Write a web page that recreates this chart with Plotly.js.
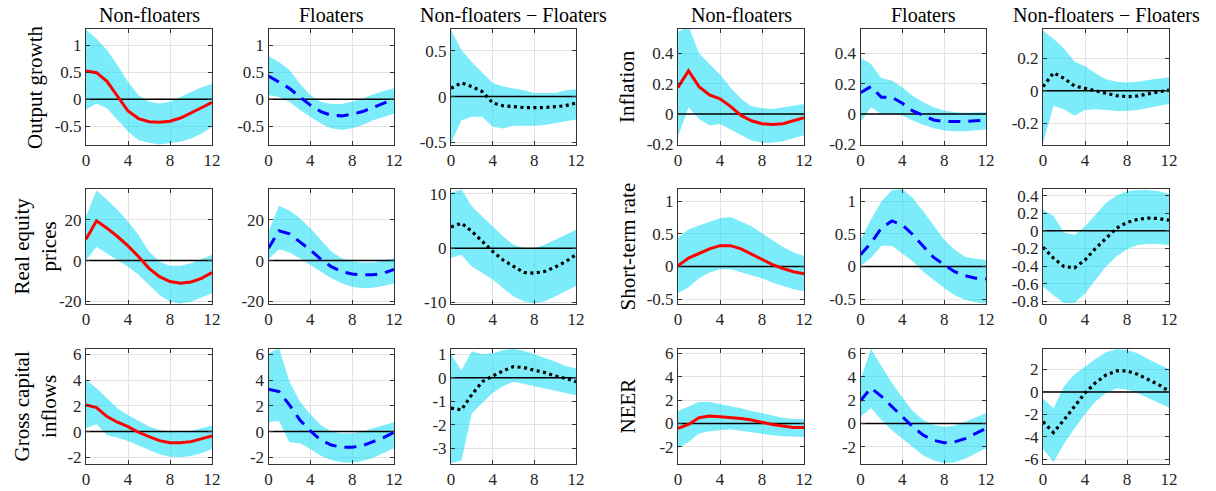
<!DOCTYPE html>
<html>
<head>
<meta charset="utf-8">
<script src="https://cdn.plot.ly/plotly-3.0.1.min.js"></script>
<style>html,body{margin:0;padding:0;background:#fff;}#chart{width:1216px;height:491px;}</style>
</head>
<body>
<div id="chart"></div>
<script>
// ---------------- DATA ----------------
const horizons = [0,1,2,3,4,5,6,7,8,9,10,11,12];
const xTicks = [0,4,8,12];
const colTitles = ["Non-floaters", "Floaters", "Non-floaters \u2212 Floaters"];
const rowLabelsLeft = ["Output growth", "Real equity<br>prices", "Gross capital<br>inflows"];
const rowLabelsRight = ["Inflation", "Short-term rate", "NEER"];

// Output growth
const outNF    = [0.52, 0.49, 0.33, 0.05, -0.22, -0.36, -0.42, -0.43, -0.41, -0.35, -0.26, -0.16, -0.06];
const outNF_hi = [1.29, 1.12, 0.91, 0.63, 0.32, 0.07, -0.05, -0.08, -0.05, 0.04, 0.14, 0.22, 0.28];
const outNF_lo = [-0.19, -0.08, -0.17, -0.39, -0.60, -0.76, -0.81, -0.84, -0.82, -0.79, -0.73, -0.64, -0.51];
const outF     = [0.43, 0.32, 0.20, 0.04, -0.11, -0.23, -0.30, -0.31, -0.28, -0.23, -0.15, -0.08, 0.00];
const outF_hi  = [0.80, 0.69, 0.54, 0.29, 0.07, -0.05, -0.09, -0.09, -0.05, 0.01, 0.09, 0.15, 0.20];
const outF_lo  = [0.07, 0.04, -0.05, -0.20, -0.33, -0.45, -0.54, -0.57, -0.54, -0.48, -0.39, -0.33, -0.27];
const outD     = [0.09, 0.15, 0.11, 0.055, -0.07, -0.10, -0.11, -0.12, -0.12, -0.12, -0.11, -0.10, -0.07];
const outD_hi  = [0.73, 0.51, 0.38, 0.27, 0.15, 0.11, 0.09, 0.07, 0.04, 0.04, 0.04, 0.07, 0.08];
const outD_lo  = [-0.51, -0.26, -0.22, -0.22, -0.33, -0.35, -0.32, -0.32, -0.32, -0.31, -0.29, -0.27, -0.25];

// Inflation
const infNF    = [0.175, 0.285, 0.18, 0.125, 0.10, 0.05, -0.01, -0.045, -0.065, -0.07, -0.065, -0.045, -0.025];
const infNF_hi = [0.54, 0.58, 0.40, 0.33, 0.26, 0.175, 0.10, 0.05, 0.037, 0.033, 0.044, 0.055, 0.066];
const infNF_lo = [-0.15, 0.044, -0.033, -0.077, -0.066, -0.10, -0.14, -0.175, -0.19, -0.19, -0.18, -0.16, -0.14];
const infF     = [0.14, 0.18, 0.11, 0.11, 0.07, 0.02, -0.01, -0.04, -0.05, -0.05, -0.05, -0.045, -0.04];
const infF_hi  = [0.37, 0.33, 0.235, 0.22, 0.175, 0.12, 0.077, 0.044, 0.022, 0.011, 0.007, 0.007, 0.011];
const infF_lo  = [-0.055, 0.044, 0.0, 0.0, -0.011, -0.044, -0.072, -0.094, -0.11, -0.114, -0.114, -0.11, -0.103];
const infD     = [0.025, 0.11, 0.076, 0.029, 0.014, 0.0, -0.016, -0.031, -0.037, -0.033, -0.02, -0.006, 0.004];
const infD_hi  = [0.37, 0.32, 0.26, 0.18, 0.15, 0.107, 0.07, 0.055, 0.05, 0.055, 0.066, 0.074, 0.082];
const infD_lo  = [-0.325, -0.094, -0.115, -0.154, -0.12, -0.115, -0.12, -0.125, -0.125, -0.12, -0.109, -0.094, -0.082];

// Real equity prices
const eqNF     = [10.5, 19.5, 15.9, 11.8, 7.2, 2.0, -3.8, -7.9, -10.3, -11.1, -10.5, -8.7, -5.9];
const eqNF_hi  = [21.6, 34.4, 29.8, 24.9, 19.2, 12.6, 4.4, -0.5, -2.6, -2.6, -1.3, 0.7, 2.8];
const eqNF_lo  = [0.3, 6.6, 3.6, 0.3, -3.0, -7.0, -12.0, -16.9, -20.2, -21.0, -20.2, -18.0, -16.0];
const eqF      = [6.0, 14.6, 13.1, 9.3, 5.2, 0.7, -3.0, -5.4, -6.6, -7.0, -7.0, -6.2, -4.3];
const eqF_hi   = [14.3, 26.9, 24.6, 20.8, 15.9, 10.2, 4.4, 1.1, -0.5, -1.0, -1.0, 0.0, 1.1];
const eqF_lo   = [0.7, 5.6, 3.9, 1.1, -2.1, -5.4, -8.7, -11.1, -12.8, -13.6, -13.3, -12.5, -11.1];
const eqD      = [3.9, 4.6, 3.1, 1.2, -0.6, -2.2, -3.4, -4.5, -4.6, -4.3, -3.5, -2.5, -1.2];
const eqD_hi   = [10.2, 10.8, 7.7, 5.8, 4.0, 2.2, 0.6, 0.0, 0.0, 0.6, 1.5, 2.5, 3.4];
const eqD_lo   = [-1.8, -1.2, -3.4, -4.6, -5.8, -7.4, -8.9, -9.8, -10.2, -9.8, -8.9, -8.0, -7.0];

// Short-term rate
const srNF     = [0.01, 0.13, 0.20, 0.27, 0.32, 0.32, 0.27, 0.19, 0.10, 0.03, -0.03, -0.08, -0.11];
const srNF_hi  = [0.44, 0.57, 0.63, 0.69, 0.74, 0.76, 0.69, 0.62, 0.51, 0.41, 0.30, 0.22, 0.16];
const srNF_lo  = [-0.41, -0.32, -0.18, -0.09, -0.04, -0.04, -0.08, -0.13, -0.18, -0.25, -0.30, -0.35, -0.38];
const srF      = [0.18, 0.36, 0.59, 0.70, 0.64, 0.49, 0.31, 0.14, 0.03, -0.08, -0.14, -0.18, -0.19];
const srF_hi   = [0.41, 0.72, 1.00, 1.17, 1.19, 1.05, 0.85, 0.62, 0.41, 0.26, 0.15, 0.12, 0.10];
const srF_lo   = [0.01, 0.13, 0.32, 0.32, 0.20, 0.08, -0.08, -0.21, -0.33, -0.44, -0.51, -0.55, -0.57];
const srD      = [-0.185, -0.31, -0.405, -0.42, -0.33, -0.20, -0.085, 0.03, 0.095, 0.13, 0.145, 0.14, 0.12];
const srD_hi   = [0.24, 0.17, -0.02, -0.045, 0.05, 0.18, 0.315, 0.40, 0.45, 0.465, 0.465, 0.45, 0.42];
const srD_lo   = [-0.63, -0.73, -0.82, -0.82, -0.71, -0.56, -0.405, -0.29, -0.21, -0.16, -0.15, -0.15, -0.16];

// Gross capital inflows
const gcNF     = [2.08, 1.87, 1.17, 0.73, 0.39, -0.05, -0.39, -0.70, -0.86, -0.86, -0.78, -0.57, -0.34];
const gcNF_hi  = [4.03, 3.38, 2.60, 1.82, 1.30, 0.83, 0.39, 0.13, 0.0, -0.05, 0.05, 0.26, 0.47];
const gcNF_lo  = [0.26, 0.57, -0.26, -0.47, -0.73, -1.09, -1.43, -1.77, -1.95, -2.0, -1.9, -1.69, -1.35];
const gcF      = [3.3, 3.12, 2.08, 0.91, 0.05, -0.65, -1.04, -1.22, -1.22, -1.09, -0.78, -0.47, -0.05];
const gcF_hi   = [6.1, 6.5, 3.9, 2.34, 1.35, 0.52, 0.0, -0.13, -0.13, 0.0, 0.26, 0.47, 0.73];
const gcF_lo   = [0.73, 0.83, -0.83, -0.91, -1.35, -1.87, -2.21, -2.39, -2.42, -2.29, -2.03, -1.69, -1.3];
const gcD      = [-1.29, -1.37, -0.72, -0.17, 0.07, 0.29, 0.47, 0.43, 0.32, 0.22, 0.07, -0.03, -0.17];
const gcD_hi   = [1.0, 0.32, 1.12, 1.0, 1.04, 1.18, 1.22, 1.15, 1.0, 0.86, 0.69, 0.5, 0.39];
const gcD_lo   = [-3.63, -3.53, -1.51, -1.08, -0.65, -0.36, -0.17, -0.26, -0.36, -0.46, -0.55, -0.65, -0.75];

// NEER
const neNF     = [-0.43, -0.09, 0.49, 0.64, 0.58, 0.52, 0.43, 0.29, 0.09, -0.09, -0.23, -0.35, -0.35];
const neNF_hi  = [1.07, 1.45, 1.83, 1.83, 1.65, 1.51, 1.30, 1.07, 0.87, 0.67, 0.49, 0.38, 0.35];
const neNF_lo  = [-2.12, -1.59, -0.87, -0.67, -0.58, -0.49, -0.58, -0.72, -0.87, -1.01, -1.10, -1.16, -1.16];
const neF      = [1.94, 3.04, 2.32, 1.45, 0.58, -0.29, -1.01, -1.45, -1.65, -1.59, -1.30, -0.87, -0.43];
const neF_hi   = [3.77, 6.38, 4.93, 3.48, 2.23, 1.07, 0.29, -0.14, -0.29, -0.20, 0.14, 0.49, 0.87];
const neF_lo   = [0.58, 1.30, 0.29, -0.58, -1.30, -2.03, -2.75, -3.19, -3.42, -3.33, -3.04, -2.61, -2.12];
const neD      = [-2.66, -3.62, -2.5, -1.3, -0.09, 0.82, 1.51, 1.87, 1.87, 1.57, 1.12, 0.66, 0.06];
const neD_hi   = [-0.6, -1.45, 0.51, 1.57, 2.24, 2.93, 3.53, 3.8, 3.74, 3.44, 2.93, 2.48, 2.02];
const neD_lo   = [-5.08, -6.28, -4.62, -3.26, -1.99, -0.85, -0.09, 0.3, 0.21, -0.09, -0.54, -1.0, -1.39];

// y-axis tick values per panel
const ticksOut  = [-0.5, 0, 0.5, 1];
const ticksOutD = [-0.5, 0, 0.5];
const ticksInf  = [-0.2, 0, 0.2, 0.4];
const ticksInfD = [-0.2, 0, 0.2];
const ticksEq   = [-20, 0, 20];
const ticksEqD  = [-10, 0, 10];
const ticksSr   = [-0.5, 0, 0.5, 1];
const ticksSrD  = [-0.8, -0.6, -0.4, -0.2, 0, 0.2, 0.4];
const ticksGc   = [-2, 0, 2, 4, 6];
const ticksGcD  = [-3, -2, -1, 0, 1];
const ticksNe   = [-2, 0, 2, 4, 6];
const ticksNeD  = [-6, -4, -2, 0, 2];

// ---------------- LAYOUT / STYLE ----------------
const W = 1216, H = 491;
const colPx = [[86,212],[268.5,394],[451,576],[678,804],[860.5,986],[1043,1169]];
const rowPx = [[29,145],[189,304],[349,464]];
const bandColor = "rgba(0,217,245,0.51)";
const lineStyles = [
  {color:"#ff0000", width:3, dash:"solid"},
  {color:"#0000ff", width:3, dash:"12px,8px"},
  {color:"#000000", width:3.2, dash:"3px,3.5px"}
];

// panels: [row, col, irf, lo, hi, yrange, ticks]
const panels = [
  [0,0,outNF,outNF_lo,outNF_hi,[-0.85,1.3],ticksOut],
  [0,1,outF,outF_lo,outF_hi,[-0.85,1.3],ticksOut],
  [0,2,outD,outD_lo,outD_hi,[-0.53,0.74],ticksOutD],
  [0,3,infNF,infNF_lo,infNF_hi,[-0.205,0.56],ticksInf],
  [0,4,infF,infF_lo,infF_hi,[-0.205,0.56],ticksInf],
  [0,5,infD,infD_lo,infD_hi,[-0.335,0.38],ticksInfD],
  [1,0,eqNF,eqNF_lo,eqNF_hi,[-21.3,35.1],ticksEq],
  [1,1,eqF,eqF_lo,eqF_hi,[-21.3,35.1],ticksEq],
  [1,2,eqD,eqD_lo,eqD_hi,[-10.3,10.9],ticksEqD],
  [1,3,srNF,srNF_lo,srNF_hi,[-0.575,1.19],ticksSr],
  [1,4,srF,srF_lo,srF_hi,[-0.575,1.19],ticksSr],
  [1,5,srD,srD_lo,srD_hi,[-0.83,0.475],ticksSrD],
  [2,0,gcNF,gcNF_lo,gcNF_hi,[-2.52,6.43],ticksGc],
  [2,1,gcF,gcF_lo,gcF_hi,[-2.52,6.43],ticksGc],
  [2,2,gcD,gcD_lo,gcD_hi,[-3.67,1.22],ticksGcD],
  [2,3,neNF,neNF_lo,neNF_hi,[-3.48,6.38],ticksNe],
  [2,4,neF,neF_lo,neF_hi,[-3.48,6.38],ticksNe],
  [2,5,neD,neD_lo,neD_hi,[-6.43,3.83],ticksNeD]
];

const FONT = "'Liberation Serif', 'DejaVu Serif', serif";
const traces = [];
const layout = {
  width: W, height: H,
  margin: {l:0, r:0, t:0, b:0},
  paper_bgcolor: "#ffffff",
  plot_bgcolor: "#ffffff",
  showlegend: false,
  font: {family: FONT, size: 17, color: "#262626"},
  annotations: []
};

panels.forEach((p, i) => {
  const [r, c, irf, lo, hi, yr, yt] = p;
  const n = i + 1;
  const xa = "x" + (n === 1 ? "" : n), ya = "y" + (n === 1 ? "" : n);
  const xk = "xaxis" + (n === 1 ? "" : n), yk = "yaxis" + (n === 1 ? "" : n);
  const style = lineStyles[c % 3];

  traces.push({
    x: horizons.concat(horizons.slice().reverse()),
    y: hi.concat(lo.slice().reverse()),
    xaxis: xa, yaxis: ya, type: "scatter", mode: "lines",
    fill: "toself", fillcolor: bandColor, line: {width: 0, color: "rgba(0,0,0,0)"},
    hoverinfo: "skip"
  });
  traces.push({
    x: horizons, y: horizons.map(() => 0),
    xaxis: xa, yaxis: ya, type: "scatter", mode: "lines",
    line: {color: "#000000", width: 1.5}, hoverinfo: "skip"
  });
  traces.push({
    x: horizons, y: irf,
    xaxis: xa, yaxis: ya, type: "scatter", mode: "lines",
    line: {color: style.color, width: style.width, dash: style.dash}
  });

  const common = {
    showline: true, linecolor: "#333333", linewidth: 1, mirror: "ticks",
    ticks: "inside", ticklen: 4, tickcolor: "#333333", tickwidth: 1,
    showgrid: true, gridcolor: "#e3e3e3", gridwidth: 1,
    zeroline: false, fixedrange: true,
    tickfont: {family: FONT, size: 17, color: "#262626"}
  };
  layout[xk] = Object.assign({}, common, {
    domain: [colPx[c][0]/W, colPx[c][1]/W],
    range: [0, 12], anchor: ya,
    tickmode: "array", tickvals: xTicks, ticktext: xTicks.map(String)
  });
  layout[yk] = Object.assign({}, common, {
    domain: [1 - rowPx[r][1]/H, 1 - rowPx[r][0]/H],
    range: yr, anchor: xa,
    tickmode: "array", tickvals: yt, ticktext: yt.map(String)
  });
});

// column titles
colPx.forEach((cp, c) => {
  layout.annotations.push({
    xref: "paper", yref: "paper",
    x: (cp[0] + cp[1]) / 2 / W, y: 1 - 15 / H,
    xanchor: "center", yanchor: "middle",
    text: colTitles[c % 3], showarrow: false,
    font: {family: FONT, size: 20, color: "#000000"}
  });
});

// row labels
rowPx.forEach((rp, r) => {
  [[colPx[0][0], rowLabelsLeft[r]], [colPx[3][0], rowLabelsRight[r]]].forEach(([left, txt]) => {
    layout.annotations.push({
      xref: "paper", yref: "paper",
      x: (left - 51) / W, y: 1 - (rp[0] + rp[1]) / 2 / H,
      xanchor: "center", yanchor: "middle",
      text: txt, textangle: -90, showarrow: false,
      font: {family: FONT, size: 21, color: "#000000"}
    });
  });
});

Plotly.newPlot("chart", traces, layout, {staticPlot: true, displayModeBar: false});
</script>
</body>
</html>
